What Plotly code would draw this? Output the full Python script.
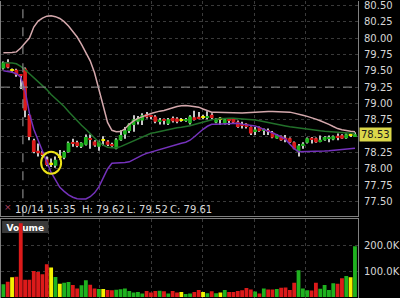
import plotly.graph_objects as go

# ---------------- data ----------------
opens = [79.535, 79.626, 79.515, 79.515, 79.44, 79.535, 78.82, 78.44, 78.28, 78.25, 78.146, 78.086, 78.05,
         78.19, 78.17, 78.26, 78.41, 78.41, 78.34, 78.37, 78.47, 78.42, 78.34, 78.44, 78.42, 78.37, 78.31,
         78.44, 78.525, 78.58, 78.67, 78.72, 78.74, 78.84, 78.81, 78.80, 78.73, 78.76, 78.69, 78.78, 78.77,
         78.75, 78.74, 78.70, 78.79, 78.79, 78.79, 78.79, 78.83, 78.71, 78.77, 78.69, 78.76, 78.77,
         78.72, 78.68, 78.69, 78.64, 78.58, 78.64, 78.59, 78.59, 78.56, 78.465, 78.50, 78.47, 78.47, 78.41,
         78.26, 78.37, 78.40, 78.47, 78.47, 78.43, 78.44, 78.47, 78.45, 78.50, 78.515, 78.47, 78.52, 78.50]
highs = [79.64, 79.677, 79.535, 79.53, 79.45, 79.55, 78.84, 78.46, 78.39, 78.27, 78.19, 78.16, 78.19,
         78.29, 78.28, 78.42, 78.46, 78.43, 78.41, 78.525, 78.525, 78.44, 78.43, 78.50, 78.44, 78.40, 78.47,
         78.59, 78.64, 78.70, 78.82, 78.81, 78.85, 78.87, 78.83, 78.82, 78.78, 78.77, 78.78, 78.80, 78.79,
         78.78, 78.78, 78.82, 78.89, 78.87, 78.83, 78.88, 78.85, 78.78, 78.79, 78.78, 78.77, 78.78,
         78.74, 78.72, 78.70, 78.65, 78.64, 78.65, 78.62, 78.62, 78.58, 78.53, 78.51, 78.52, 78.48, 78.42,
         78.38, 78.41, 78.48, 78.49, 78.48, 78.51, 78.50, 78.51, 78.51, 78.54, 78.53, 78.54, 78.55, 78.56]
lows = [79.52, 79.54, 79.485, 79.41, 79.22, 78.79, 78.44, 78.24, 78.19, 78.20, 78.04, 78.03, 78.02,
        78.14, 78.15, 78.25, 78.34, 78.33, 78.32, 78.36, 78.31, 78.34, 78.28, 78.36, 78.35, 78.34, 78.30,
        78.43, 78.46, 78.55, 78.57, 78.68, 78.67, 78.77, 78.76, 78.70, 78.68, 78.68, 78.67, 78.71, 78.70,
        78.72, 78.72, 78.68, 78.74, 78.76, 78.76, 78.76, 78.76, 78.70, 78.67, 78.68, 78.67, 78.69,
        78.63, 78.62, 78.62, 78.52, 78.52, 78.57, 78.52, 78.52, 78.47, 78.46, 78.43, 78.41, 78.40, 78.30,
        78.19, 78.31, 78.39, 78.39, 78.40, 78.41, 78.43, 78.41, 78.44, 78.44, 78.46, 78.46, 78.49, 78.49]
closes = [79.626, 79.55, 79.515, 79.44, 79.43, 78.894, 78.49, 78.26, 78.24, 78.22, 78.06, 78.086, 78.14,
          78.19, 78.26, 78.40, 78.39, 78.35, 78.40, 78.49, 78.45, 78.36, 78.42, 78.44, 78.37, 78.36, 78.45,
          78.52, 78.59, 78.69, 78.76, 78.78, 78.82, 78.79, 78.80, 78.72, 78.75, 78.74, 78.76, 78.73, 78.72,
          78.75, 78.76, 78.80, 78.76, 78.78, 78.79, 78.80, 78.78, 78.76, 78.77, 78.76, 78.74, 78.71,
          78.64, 78.66, 78.64, 78.54, 78.60, 78.58, 78.60, 78.58, 78.48, 78.52, 78.44, 78.46, 78.41, 78.31,
          78.36, 78.38, 78.47, 78.46, 78.41, 78.44, 78.49, 78.48, 78.50, 78.49, 78.465, 78.53, 78.52, 78.53]
volumes_k = [49, 59, 76, 78, 285, 67, 67, 100, 97, 88, 126, 114, 77, 51, 55, 58, 46, 33, 45, 65, 47, 33, 31, 31, 27, 26, 28,
             30, 33, 23, 17, 19, 14, 23, 17, 23, 24, 22, 14, 23, 17, 19, 12, 14, 19, 27, 19, 15, 22, 15, 17, 27, 19, 19,
             23, 26, 35, 29, 21, 14, 33, 29, 29, 31, 36, 37, 27, 55, 103, 33, 26, 25, 55, 32, 46, 27, 53, 51, 72, 81, 76, 196]
upper_band = [79.773, 79.773, 79.780, 79.788, 79.848, 79.924, 80.000, 80.167, 80.258, 80.303,
              80.333, 80.341, 80.326, 80.298, 80.250, 80.182, 80.106, 80.015, 79.902, 79.773,
              79.652, 79.470, 79.212, 78.939, 78.712, 78.591, 78.568, 78.571, 78.614, 78.682,
              78.735, 78.773, 78.803, 78.823, 78.848, 78.868, 78.883, 78.894, 78.917, 78.939,
              78.955, 78.965, 78.970, 78.962, 78.955, 78.944, 78.917, 78.891, 78.868, 78.867,
              78.864, 78.864, 78.859, 78.853, 78.848, 78.853, 78.858, 78.864, 78.868, 78.873,
              78.877, 78.879, 78.879, 78.879, 78.876, 78.873, 78.868, 78.853, 78.841, 78.820,
              78.803, 78.785, 78.761, 78.736, 78.714, 78.682, 78.648, 78.617, 78.600, 78.585,
              78.576, 78.567]
middle_band = [79.621, 79.621, 79.618, 79.606, 79.568, 79.515, 79.455, 79.402, 79.333, 79.273,
               79.212, 79.136, 79.076, 79.015, 78.955, 78.879, 78.803, 78.735, 78.667, 78.606,
               78.538, 78.470, 78.409, 78.364, 78.333, 78.326, 78.326, 78.341, 78.371, 78.402,
               78.432, 78.462, 78.492, 78.523, 78.545, 78.556, 78.571, 78.591, 78.609, 78.621,
               78.629, 78.636, 78.644, 78.659, 78.679, 78.697, 78.720, 78.742, 78.753, 78.765,
               78.770, 78.773, 78.773, 78.773, 78.770, 78.765, 78.759, 78.753, 78.747, 78.738,
               78.723, 78.709, 78.694, 78.680, 78.668, 78.658, 78.645, 78.635, 78.624, 78.617,
               78.609, 78.602, 78.592, 78.583, 78.576, 78.570, 78.562, 78.556, 78.550, 78.545,
               78.542, 78.541]
lower_band = [79.500, 79.489, 79.477, 79.455, 79.402, 79.197, 78.848, 78.606, 78.439, 78.242,
              78.106, 77.947, 77.826, 77.720, 77.659, 77.606, 77.568, 77.545, 77.541, 77.542,
              77.576, 77.636, 77.727, 77.864, 78.000, 78.088, 78.091, 78.091, 78.098, 78.109,
              78.144, 78.182, 78.212, 78.238, 78.258, 78.280, 78.298, 78.318, 78.341, 78.359,
              78.379, 78.394, 78.409, 78.439, 78.492, 78.553, 78.606, 78.652, 78.682, 78.682,
              78.686, 78.689, 78.692, 78.695, 78.697, 78.685, 78.676, 78.667, 78.658, 78.632,
              78.606, 78.582, 78.555, 78.523, 78.488, 78.455, 78.379, 78.311, 78.265, 78.265,
              78.265, 78.265, 78.265, 78.270, 78.273, 78.277, 78.283, 78.291, 78.300, 78.308,
              78.314, 78.318]
price_ticks = [80.50, 80.25, 80.00, 79.75, 79.50, 79.25, 79.00, 78.75, 78.50, 78.25, 78.00, 77.75, 77.50]
volume_ticks = [100000, 200000]
volume_tick_labels = ["100.0K", "200.0K"]
prev_close = 79.25
day_start_index = 5
highlight_index = 11
info_date = "10/14 15:35"
info_high, info_low, info_close = 79.62, 79.52, 79.61

# ---------------- derived ----------------
n = len(closes)
idx = list(range(n))
last_close = closes[-1]
UP, DOWN, FLAT = "#1fb21f", "#dc1a1a", "#f4f000"
colors = []
for o, c in zip(opens, closes):
    if abs(c - o) < 0.005:
        colors.append(FLAT)
    elif c > o:
        colors.append(UP)
    else:
        colors.append(DOWN)

min_body = 0.022
body_base, body_h = [], []
for o, c in zip(opens, closes):
    lo, hi = min(o, c), max(o, c)
    if hi - lo < min_body:
        mid = (hi + lo) / 2
        lo, hi = mid - min_body / 2, mid + min_body / 2
    body_base.append(lo)
    body_h.append(hi - lo)

# tick labels: the one hidden behind the last-price tag is left blank
price_ticktext = ["" if abs(t - last_close) < 0.08 else f"{t:.2f}" for t in price_ticks]

fig = go.Figure()
fig.add_trace(go.Bar(x=idx, y=[h - l for h, l in zip(highs, lows)], base=lows, width=0.24,
                     marker=dict(color="#c8c8c8", line_width=0), xaxis="x", yaxis="y", hoverinfo="skip"))
fig.add_trace(go.Bar(x=idx, y=body_h, base=body_base, width=0.86,
                     marker=dict(color=colors, line_width=0), xaxis="x", yaxis="y"))
for band, col in ((upper_band, "#d4a8ac"), (middle_band, "#22702a"), (lower_band, "#7532bc")):
    fig.add_trace(go.Scatter(x=idx, y=band, mode="lines", line=dict(color=col, width=1.5),
                             xaxis="x", yaxis="y"))
fig.add_trace(go.Bar(x=idx, y=[v * 1000 for v in volumes_k], width=0.88,
                     marker=dict(color=colors, line_width=0), xaxis="x2", yaxis="y2"))

grid = dict(showgrid=True, gridcolor="#3a3a3a", griddash="dot", gridwidth=1, zeroline=False)
tickfont = dict(family="DejaVu Sans", size=10, color="#d6d6d6")
xcommon = dict(range=[-0.55, 81.7], showticklabels=False, ticks="", tickmode="linear",
               tick0=10.4, dtick=11.85, showline=True, linecolor="#808080", linewidth=1, **grid)

fig.update_layout(
    width=400, height=298, margin=dict(l=1, r=39, t=0, b=0),
    paper_bgcolor="black", plot_bgcolor="black", showlegend=False, barmode="overlay",
    xaxis=dict(domain=[0, 1], anchor="y", **xcommon),
    xaxis2=dict(domain=[0, 1], anchor="y2", matches="x", mirror=True, **xcommon),
    yaxis=dict(domain=[0.2752, 1], range=[77.278, 80.565], side="right", anchor="x",
               tickmode="array", tickvals=price_ticks, ticktext=price_ticktext,
               tickfont=tickfont, ticks="", ticklabelstandoff=3, ticklabeloverflow="allow",
               showline=True, mirror=True, linecolor="#808080", linewidth=1, **grid),
    yaxis2=dict(domain=[0, 0.2651], range=[-3800, 300000], side="right", anchor="x2",
                tickmode="array", tickvals=volume_ticks, ticktext=volume_tick_labels,
                tickfont=tickfont, ticks="", ticklabelstandoff=3,
                showline=True, mirror=True, linecolor="#808080", linewidth=1, **grid),
)

mid_hl = (highs[highlight_index] + lows[highlight_index]) / 2
fig.update_layout(shapes=[
    dict(type="line", xref="x", yref="y domain", x0=day_start_index - 0.5, x1=day_start_index - 0.5,
         y0=0, y1=1, line=dict(color="#a0a0a0", width=1, dash="dash")),
    dict(type="line", xref="x domain", yref="y", x0=0, x1=1, y0=prev_close, y1=prev_close,
         line=dict(color="#8c8c8c", width=1, dash="dash")),
    dict(type="circle", xref="x", yref="y", xsizemode="pixel", ysizemode="pixel",
         xanchor=highlight_index, yanchor=mid_hl, x0=-10, x1=10, y0=-11, y1=11,
         line=dict(color="#ece218", width=2)),
    dict(type="rect", xref="x2 domain", yref="y2 domain", x0=0.003, x1=0.133, y0=0.826, y1=0.978,
         fillcolor="#3a3a3a", line_width=0, layer="below",
         label=dict(text="Volume", font=dict(family="DejaVu Sans", size=9, color="white", weight="bold"),
                    textposition="middle center")),
])

info_font = dict(family="DejaVu Sans", size=10, color="#d8d8d8")
info_parts = [(0.0333, info_date), (0.2222, f"H: {info_high:.2f}"),
              (0.3472, f"L: {info_low:.2f}"), (0.4667, f"C: {info_close:.2f}")]
annotations = [dict(xref="paper", yref="paper", x=px, y=0.2987, xanchor="left", yanchor="middle",
                    showarrow=False, font=info_font, text=t) for px, t in info_parts]
annotations += [
    dict(xref="paper", yref="paper", x=0.0194, y=0.305, xanchor="center", yanchor="middle",
         showarrow=False, font=dict(family="DejaVu Sans", size=9, color="#b04060"), text="×"),
    dict(xref="paper", yref="y", x=1, xshift=1, y=last_close, xanchor="left", yanchor="middle",
         showarrow=False, bgcolor="#dcd84a", borderpad=1,
         font=dict(family="DejaVu Sans", size=10, color="#1a1a1a"), text=f"{last_close:.2f}"),
]
fig.update_layout(annotations=annotations)

fig.write_html("out.html")
